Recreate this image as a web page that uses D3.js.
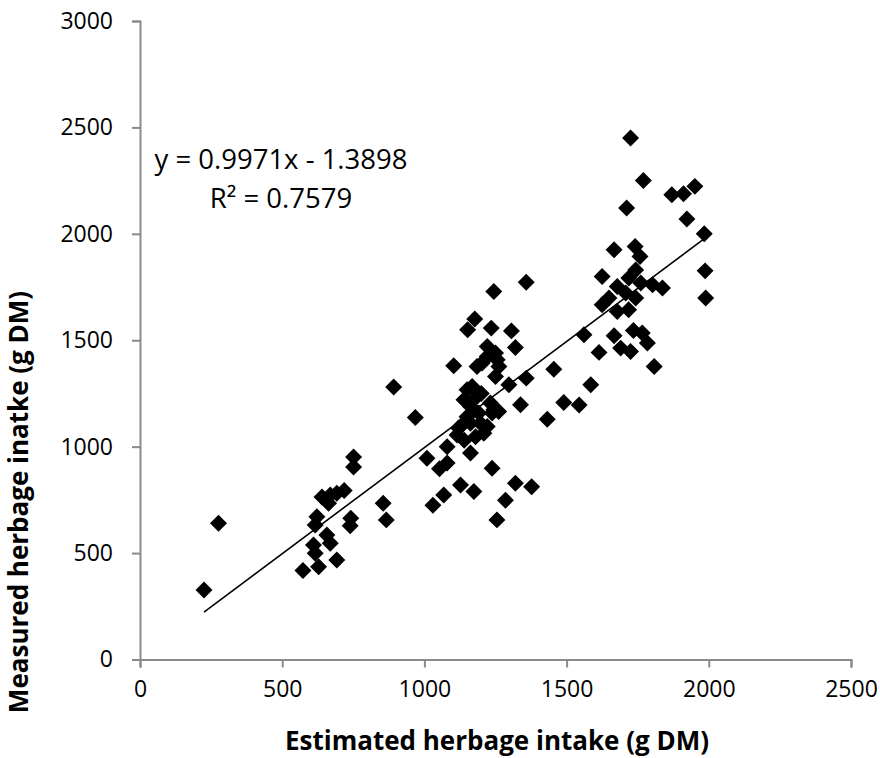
<!DOCTYPE html>
<html>
<head>
<meta charset="utf-8">
<script src="https://cdn.jsdelivr.net/npm/d3@7"></script>
<style>
  html, body { margin: 0; padding: 0; background: #fff; }
  svg { display: block; }
  text { font-family: "Open Sans", Lato, sans-serif; fill: #000; }
</style>
</head>
<body>
<svg id="chart" width="880" height="758"></svg>
<script>
// Estimated vs measured herbage intake per animal (g DM)
const estimated = [
  225, 276, 573, 610, 616, 628, 692, 657, 669, 616, 622, 640, 669, 692, 718, 663, 741, 739,
  751, 751, 855, 866, 892, 968, 1009, 1030, 1068, 1080, 1080, 1053, 1127, 1174, 1162, 1238,
  1320, 1377, 1285, 1255, 1115, 1209, 1127, 1150, 1197, 1221, 1139, 1185, 1168, 1232, 1244,
  1338, 1103, 1185, 1203, 1262, 1250, 1297, 1358, 1221, 1250, 1320, 1306, 1235, 1152, 1177,
  1244, 1358, 1221, 1256, 1150, 1162, 1191, 1238, 1162, 1180, 1261, 1120, 1455, 1561, 1585,
  1490, 1544, 1432, 1614, 1667, 1690, 1725, 1735, 1766, 1784, 1808, 1625, 1678, 1718, 1649,
  1708, 1743, 1678, 1719, 1761, 1802, 1837, 1625, 1743, 1667, 1741, 1758, 1725, 1770, 1711,
  1870, 1911, 1951, 1923, 1984, 1987, 1989, 1140, 1200
];
const measured = [
  327, 640, 418, 538, 499, 436, 468, 585, 546, 632, 671, 763, 773, 781, 794, 734, 664, 628,
  951, 904, 734, 656, 1280, 1137, 946, 725, 773, 1000, 923, 896, 820, 789, 970, 899,
  828, 812, 748, 656, 1055, 1063, 1095, 1141, 1110, 1095, 1220, 1236, 1283, 1205, 1173,
  1197, 1380, 1377, 1393, 1377, 1330, 1291, 1322, 1471, 1440, 1466, 1544, 1557, 1549, 1600,
  1729, 1772, 1424, 1408, 1267, 1189, 1158, 1158, 1110, 1047, 1165, 1088, 1364, 1526, 1291,
  1207, 1196, 1129, 1443, 1521, 1463, 1447, 1546, 1534, 1487, 1377, 1667, 1635, 1643, 1698,
  1722, 1698, 1753, 1792, 1769, 1761, 1745, 1800, 1830, 1925, 1941, 1894, 2450, 2251, 2121,
  2184, 2188, 2223, 2070, 2000, 1826, 1698, 1030, 1250
];

// Linear trend fitted to the data
const slope = 0.9971;
const intercept = -1.3898;
const rSquared = 0.7579;

const xTicks = [0, 500, 1000, 1500, 2000, 2500];
const yTicks = [0, 500, 1000, 1500, 2000, 2500, 3000];

const xTitle = "Estimated herbage intake (g DM)";
const yTitle = "Measured herbage inatke (g DM)";

const svg = d3.select("#chart");
const plot = { left: 140, right: 851, top: 21, bottom: 659.5 };

const x = d3.scaleLinear().domain([0, 2500]).range([plot.left, plot.right]);
const y = d3.scaleLinear().domain([0, 3000]).range([plot.bottom, plot.top]);

const axisColor = "#8a8a8a";

// X axis
const gx = svg.append("g")
  .attr("transform", `translate(0,${plot.bottom})`)
  .call(d3.axisBottom(x).tickValues(xTicks).tickSize(8).tickPadding(13).tickFormat(d3.format("d")));
gx.select(".domain").attr("stroke", axisColor).attr("stroke-width", 2);
gx.selectAll(".tick line").attr("stroke", axisColor).attr("stroke-width", 2);
gx.selectAll(".tick text").style("font-size", "23px").attr("fill", "#000");

// Y axis
const gy = svg.append("g")
  .attr("transform", `translate(${plot.left},0)`)
  .call(d3.axisLeft(y).tickValues(yTicks).tickSize(8).tickPadding(19).tickFormat(d3.format("d")));
gy.select(".domain").attr("stroke", axisColor).attr("stroke-width", 2);
gy.selectAll(".tick line").attr("stroke", axisColor).attr("stroke-width", 2);
gy.selectAll(".tick text").style("font-size", "23px").attr("fill", "#000");

// Trend line across the range of estimated values
const xMin = d3.min(estimated), xMax = d3.max(estimated);
svg.append("line")
  .attr("x1", x(xMin)).attr("y1", y(slope * xMin + intercept))
  .attr("x2", x(xMax)).attr("y2", y(slope * xMax + intercept))
  .attr("stroke", "#000").attr("stroke-width", 1.6);

// Diamond markers
const points = estimated.map((e, i) => ({ e, m: measured[i] }));
const diamond = d3.symbol().type(d3.symbolSquare).size(144);
svg.append("g").selectAll("path")
  .data(points)
  .join("path")
  .attr("d", diamond)
  .attr("transform", d => `translate(${x(d.e)},${y(d.m)}) rotate(45)`)
  .attr("fill", "#000");

// Trend equation
svg.append("text")
  .attr("x", 281).attr("y", 169)
  .attr("text-anchor", "middle")
  .style("font-size", "27.5px")
  .text(`y = ${slope}x - ${Math.abs(intercept)}`);
svg.append("text")
  .attr("x", 281).attr("y", 208)
  .attr("text-anchor", "middle")
  .style("font-size", "27.5px")
  .text(`R² = ${rSquared}`);

// Axis titles
svg.append("text")
  .attr("x", 497).attr("y", 750)
  .attr("text-anchor", "middle")
  .style("font-size", "26px").style("font-weight", "bold")
  .text(xTitle);
svg.append("text")
  .attr("transform", "translate(28,502) rotate(-90)")
  .attr("text-anchor", "middle")
  .style("font-size", "26px").style("font-weight", "bold")
  .text(yTitle);
</script>
</body>
</html>
